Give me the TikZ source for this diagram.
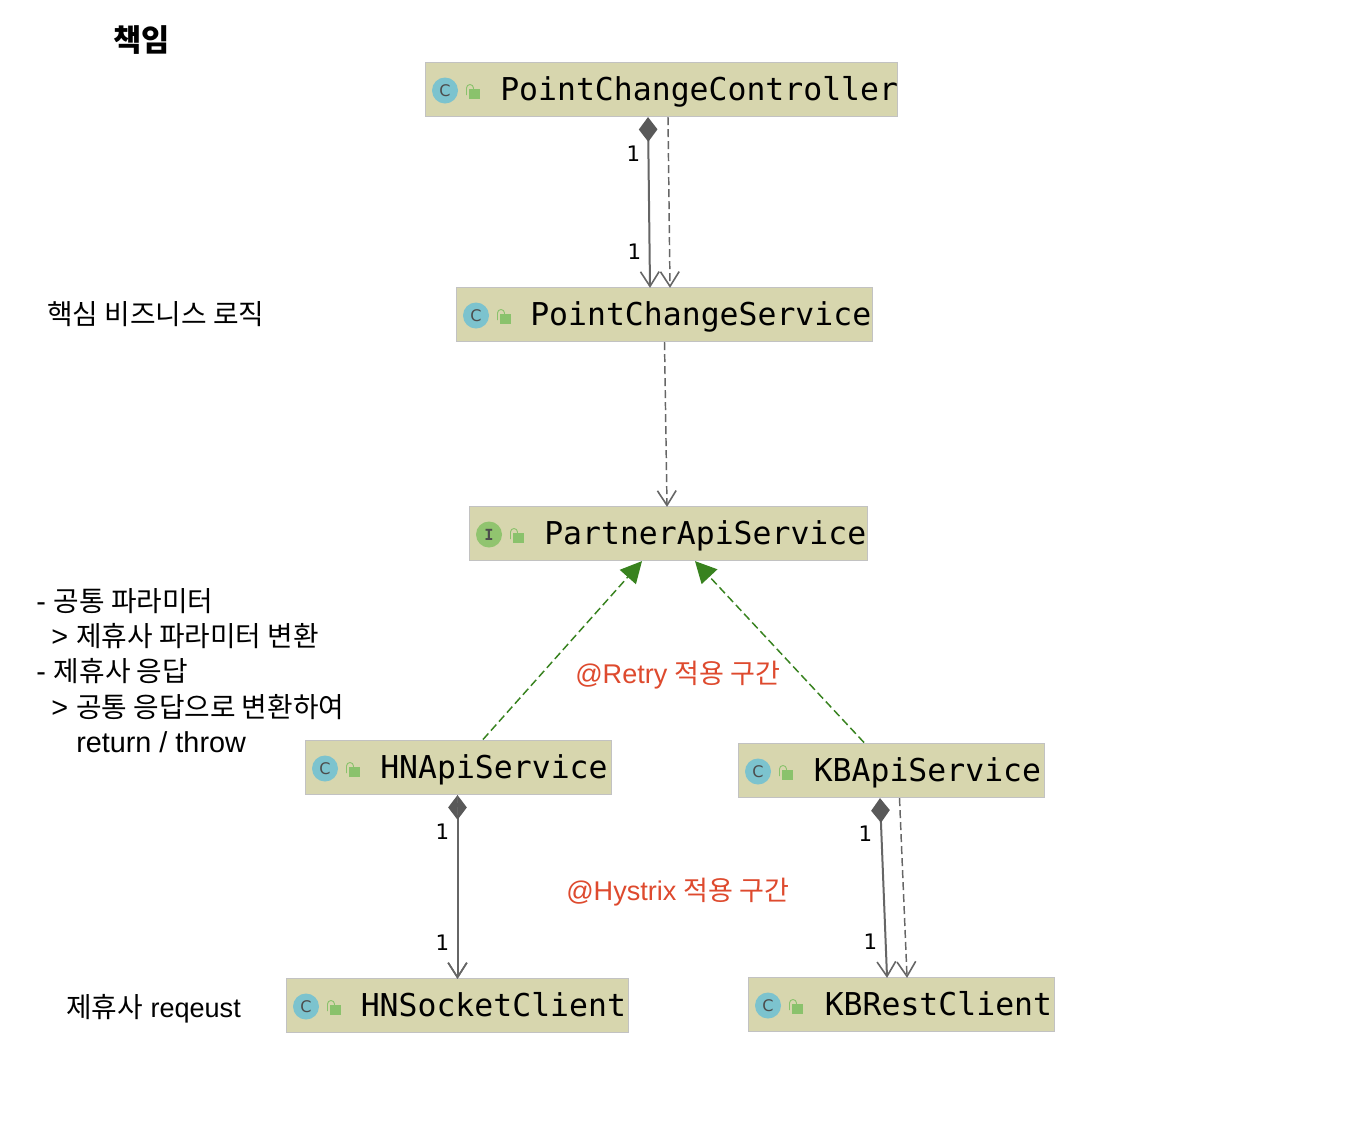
\documentclass[tikz,border=0pt]{standalone}
\usepackage{fontspec}
\usetikzlibrary{arrows.meta}
\setmainfont{Liberation Sans}
\newfontfamily\krfont{Noto Sans CJK KR}
\newfontfamily\monofam{DejaVu Sans Mono}
\newfontfamily\numfam{DejaVu Sans}
\newcommand{\kr}[1]{\raisebox{-0.7pt}{\krfont\fontsize{20.85pt}{24pt}\selectfont #1}}
\newcommand{\krs}[1]{\raisebox{-0.7pt}{\krfont\fontsize{20.3pt}{24pt}\selectfont #1}}
\definecolor{boxfill}{HTML}{D7D6AE}
\definecolor{boxline}{HTML}{C2C2C2}
\definecolor{iconc}{HTML}{7CC3CE}
\definecolor{iconi}{HTML}{91C46F}
\definecolor{lockg}{HTML}{8AC26C}
\definecolor{lineg}{HTML}{666666}
\definecolor{dia}{HTML}{595959}
\definecolor{realz}{HTML}{38821F}
\definecolor{note}{HTML}{DE4A2E}
\tikzset{
  x=0.75pt,y=-0.75pt,
  umlbox/.style={draw=boxline,fill=boxfill,line width=1.2pt,inner sep=0pt,rectangle,anchor=north west},
  umlname/.style={inner sep=0pt,anchor=base west,font=\monofam\fontsize{23.6pt}{26pt}\selectfont,text=black},
  lbl/.style={inner sep=0pt,anchor=base west,font=\fontsize{21.6pt}{26pt}\selectfont,text=black},
  smalllbl/.style={lbl,font=\fontsize{20.3pt}{24pt}\selectfont},
  redlbl/.style={smalllbl,text=note},
  mult/.style={inner sep=0pt,font=\numfam\fontsize{16pt}{18pt}\selectfont,text=black},
  assoc/.style={draw=lineg,line width=1.5pt,shorten >=-1pt,-{Straight Barb[length=11pt,width=14pt,line width=1.2pt]}},
  comp/.style={assoc,{Diamond[length=18.5pt,width=14pt,fill=dia,color=dia]}-{Straight Barb[length=11pt,width=14pt,line width=1.2pt]}},
  dep/.style={assoc,dash pattern=on 6pt off 3pt,line width=1.1pt},
  impl/.style={draw=realz,line width=1.1pt,dash pattern=on 6pt off 3pt,-{Triangle[length=16pt,width=16pt,fill=realz,color=realz,sep=0pt]}},
}
\newcommand{\umlclass}[7]{%
  \node[umlbox,minimum width={(#4-#2)*0.75pt},minimum height={(#5-#3)*0.75pt}] (#1) at (#2-0.5,#3-0.5) {};
  \begin{scope}[shift={(#2,#3)}]
    \fill[#6] (20,28.5) circle[radius=13];
    \node[inner sep=0pt,text=black!70] (#1icon) at (20,28.5) {#7};
    \draw[lockg,line width=0.7pt] (41.5,33) -- (41.5,26) arc[start angle=180,end angle=360,radius=3.5] -- (48.5,27);
    \fill[lockg] (44,27) rectangle (55,36.5);
  \end{scope}%
}
\newcommand{\icC}{\numfam\fontsize{12pt}{14pt}\selectfont C}
\newcommand{\icI}{\monofam\bfseries\fontsize{11.5pt}{14pt}\selectfont I}
\begin{document}
\begin{tikzpicture}
\useasboundingbox (0,0) rectangle (1364,1140);
\fill[white] (0,0) rectangle (1364,1140);

\umlclass{pcc}{425}{62}{897}{116}{iconc}{\icC}
\umlclass{pcs}{456}{287}{872}{341}{iconc}{\icC}
\umlclass{pas}{469}{506}{867}{560}{iconi}{\icI}
\umlclass{hn}{305}{740}{611}{794}{iconc}{\icC}
\umlclass{kb}{738}{743}{1044}{797}{iconc}{\icC}
\umlclass{hns}{286}{978}{628}{1032}{iconc}{\icC}
\umlclass{kbr}{748}{977}{1054}{1031}{iconc}{\icC}

\node[umlname] (pcct) at (500,100) {PointChangeController};
\node[umlname] (pcst) at (530,325) {PointChangeService};
\node[umlname] (past) at (544,544) {PartnerApiService};
\node[umlname] (hnt) at (380,778) {HNApiService};
\node[umlname] (kbt) at (813.5,781) {KBApiService};
\node[umlname] (hnst) at (360.5,1016) {HNSocketClient};
\node[umlname] (kbrt) at (824.5,1015) {KBRestClient};

\draw[comp] (648,0 |- pcc.south) -- (650,0 |- pcs.north);
\draw[dep] (668,0 |- pcc.south) -- (670,0 |- pcs.north);
\draw[dep] (664.5,0 |- pcs.south) -- (667,0 |- pas.north);
\draw[impl] (483,0 |- hn.north) -- (642,0 |- pas.south);
\draw[impl] (864,0 |- kb.north) -- (695,0 |- pas.south);
\draw[comp] (457.5,0 |- hn.south) -- (457.5,0 |- hns.north);
\draw[dep] (457.5,0 |- hn.south) -- (457.5,0 |- hns.north);
\draw[comp] (880,0 |- kb.south) -- (887,0 |- kbr.north);
\draw[dep] (899.5,0 |- kb.south) -- (907,0 |- kbr.north);

\node[mult] (m1) at (633.5,153.5) {1};
\node[mult] (m2) at (634.5,251.5) {1};
\node[mult] (m3) at (442.5,831.5) {1};
\node[mult] (m4) at (442.5,942.5) {1};
\node[mult] (m5) at (865.5,833.5) {1};
\node[mult] (m6) at (870.5,941.5) {1};

\node[inner sep=0pt,font=\krfont\bfseries\fontsize{23pt}{26pt}\selectfont] (title) at (141.5,40) {책임};
\node[lbl] (core) at (47,324) {\kr{핵심 비즈니스 로직}};
\node[lbl] (l1) at (36,611) {- \kr{공통 파라미터}};
\node[lbl] (l2) at (51,646) {> \kr{제휴사 파라미터 변환}};
\node[lbl] (l3) at (36,681) {- \kr{제휴사 응답}};
\node[lbl] (l4) at (51,717) {> \kr{공통 응답으로 변환하여}};
\node[lbl] (l5) at (76,752) {return / throw};
\node[smalllbl] (req) at (66,1017) {\kr{제휴사} reqeust};
\node[redlbl] (retry) at (575,683) {@Retry \krs{적용 구간}};
\node[redlbl] (hys) at (566,900) {@Hystrix \krs{적용 구간}};
\end{tikzpicture}
\end{document}
